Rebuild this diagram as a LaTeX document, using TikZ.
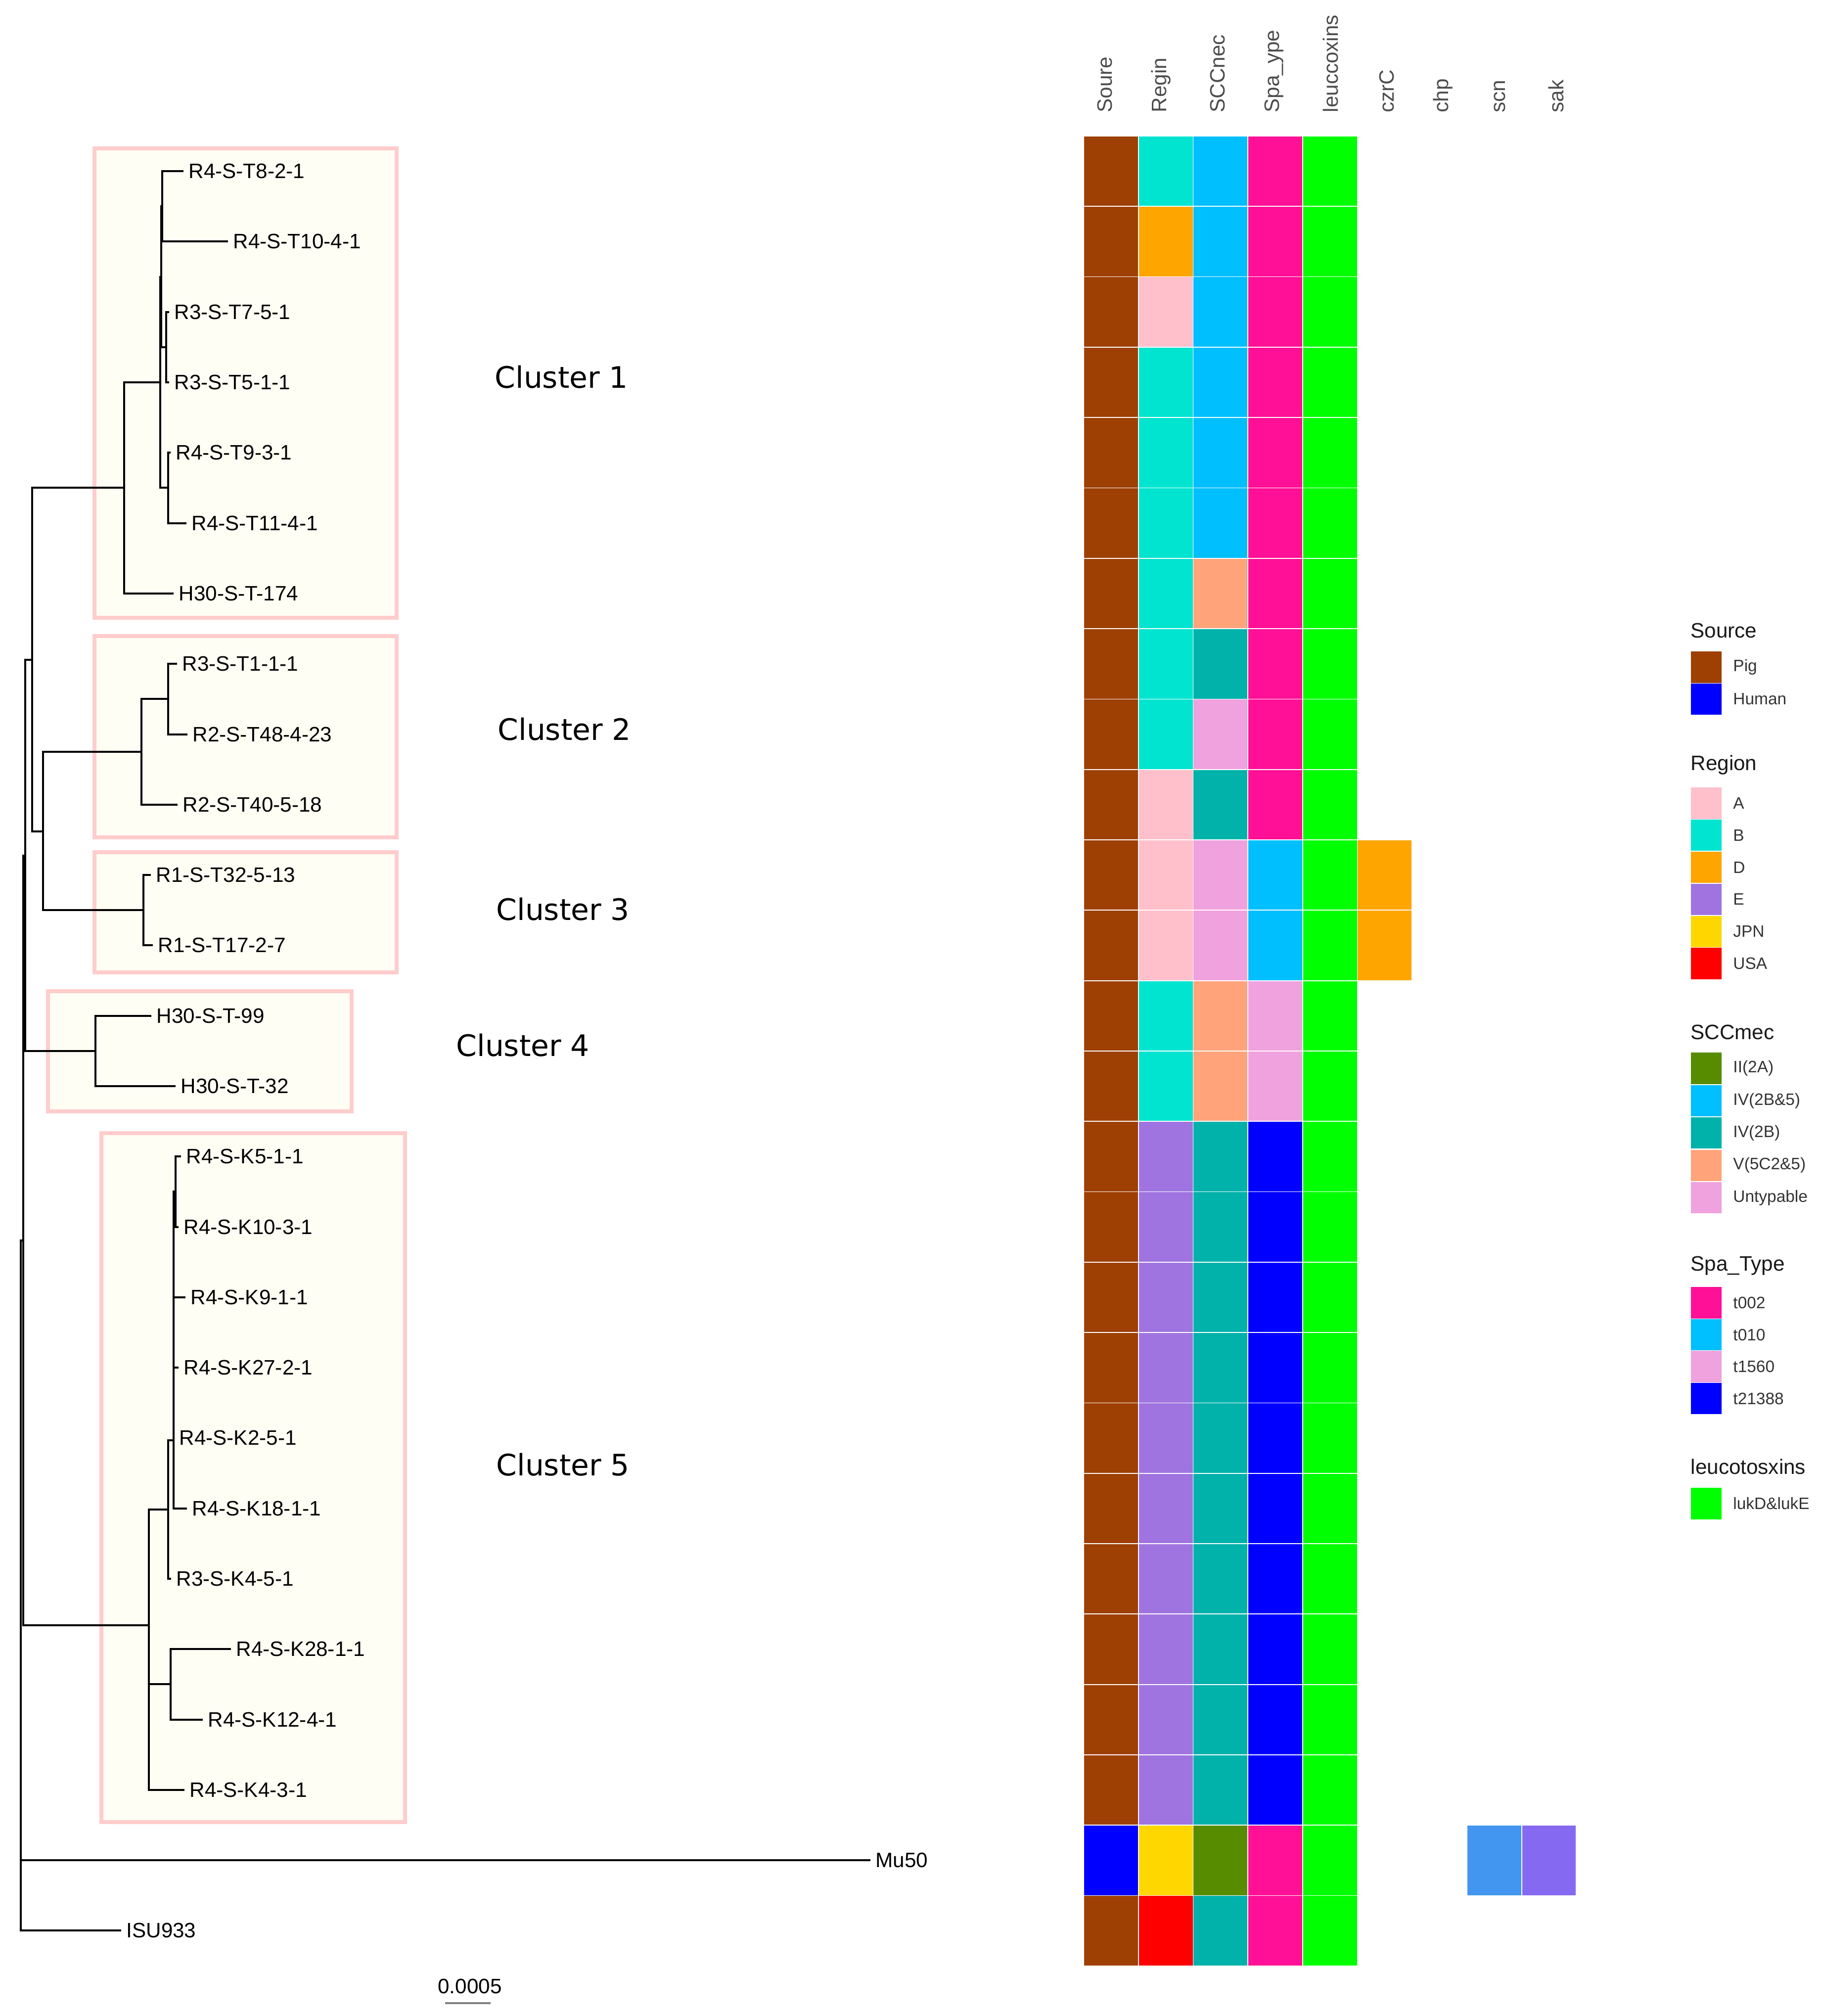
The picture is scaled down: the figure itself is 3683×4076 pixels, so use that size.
\documentclass[tikz,border=0pt]{standalone}
\usepackage{fontspec}
\setmainfont{Liberation Sans}
\newfontfamily\clusterfont{DejaVu Sans}
\usetikzlibrary{positioning}

\definecolor{pig}{RGB}{158,64,4}
\definecolor{human}{RGB}{0,0,255}
\definecolor{regA}{RGB}{255,192,203}
\definecolor{regB}{RGB}{0,228,208}
\definecolor{regD}{RGB}{255,165,0}
\definecolor{regE}{RGB}{160,116,224}
\definecolor{jpn}{RGB}{255,215,0}
\definecolor{usa}{RGB}{255,0,0}
\definecolor{sccII}{RGB}{88,140,0}
\definecolor{sccIVbf}{RGB}{0,191,255}
\definecolor{sccIVb}{RGB}{0,178,170}
\definecolor{sccV}{RGB}{255,163,122}
\definecolor{untyp}{RGB}{240,162,222}
\definecolor{spaA}{RGB}{255,16,150}
\definecolor{spaB}{RGB}{0,191,255}
\definecolor{spaC}{RGB}{240,162,222}
\definecolor{spaD}{RGB}{0,0,255}
\definecolor{luk}{RGB}{0,255,0}
\definecolor{czr}{RGB}{255,165,0}
\definecolor{scnc}{RGB}{66,150,240}
\definecolor{sakc}{RGB}{133,105,240}
\definecolor{boxfill}{RGB}{255,254,244}
\definecolor{boxline}{RGB}{255,204,204}

\begin{document}
\begin{tikzpicture}[
    x=0.01cm, y=-0.01cm,
    leaf/.style={anchor=west, inner xsep=1mm, inner ysep=0pt, font=\fontsize{12}{14}\selectfont},
    branch/.style={line width=1pt, black},
    clusterbox/.style={draw=boxline, fill=boxfill, line width=2.2pt},
    clusterlab/.style={anchor=west, inner sep=0pt, font=\clusterfont\fontsize{17}{20}\selectfont},
    cell/.style={draw=white, line width=0.5pt},
    colhead/.style={rotate=90, anchor=west, inner sep=0pt, text=black!70, font=\fontsize{12}{14}\selectfont},
    swatch/.style={minimum width=0.64cm, minimum height=0.645cm, inner sep=0pt, draw=white, line width=0.4pt},
    legtitle/.style={anchor=west, inner sep=0pt, text=black!90, font=\fontsize{12}{14}\selectfont},
    legtext/.style={inner sep=0pt, text=black!80, font=\fontsize{9.5}{11}\selectfont}
]
\fill[white] (0,0) rectangle (3683,4076);
\useasboundingbox (0,0) rectangle (3683,4076);

% Cluster boxes
\draw[clusterbox] (191,300) rectangle (802,1249);
\draw[clusterbox] (191,1286) rectangle (802,1693);
\draw[clusterbox] (191,1723) rectangle (802,1966);
\draw[clusterbox] (97,2004) rectangle (711,2247);
\draw[clusterbox] (205,2291) rectangle (819,3684);

% Cluster labels
\node[clusterlab] (cl1) at (1000,762) {Cluster 1};
\node[clusterlab] (cl2) at (1006,1474) {Cluster 2};
\node[clusterlab] (cl3) at (1003,1838) {Cluster 3};
\node[clusterlab] (cl4) at (922,2113) {Cluster 4};
\node[clusterlab] (cl5) at (1003,2961) {Cluster 5};

% Leaves
\node[leaf] (t8) at (371,346) {R4-S-T8-2-1};
\node[leaf] (t10) at (461,488) {R4-S-T10-4-1};
\node[leaf] (t7) at (342,631) {R3-S-T7-5-1};
\node[leaf] (t5) at (342,773) {R3-S-T5-1-1};
\node[leaf] (t9) at (345,915) {R4-S-T9-3-1};
\node[leaf] (t11) at (377,1058) {R4-S-T11-4-1};
\node[leaf] (h174) at (351,1200) {H30-S-T-174};
\node[leaf] (t1) at (358,1342) {R3-S-T1-1-1};
\node[leaf] (t48) at (379,1485) {R2-S-T48-4-23};
\node[leaf] (t40) at (359,1627) {R2-S-T40-5-18};
\node[leaf] (t32) at (305,1769) {R1-S-T32-5-13};
\node[leaf] (t17) at (309,1911) {R1-S-T17-2-7};
\node[leaf] (h99) at (306,2054) {H30-S-T-99};
\node[leaf] (h32) at (355,2196) {H30-S-T-32};
\node[leaf] (k5) at (366,2338) {R4-S-K5-1-1};
\node[leaf] (k10) at (361,2481) {R4-S-K10-3-1};
\node[leaf] (k9) at (375,2623) {R4-S-K9-1-1};
\node[leaf] (k27) at (361,2765) {R4-S-K27-2-1};
\node[leaf] (k2) at (352,2907) {R4-S-K2-5-1};
\node[leaf] (k18) at (378,3050) {R4-S-K18-1-1};
\node[leaf] (k4r3) at (346,3192) {R3-S-K4-5-1};
\node[leaf] (k28) at (467,3334) {R4-S-K28-1-1};
\node[leaf] (k12) at (410,3477) {R4-S-K12-4-1};
\node[leaf] (k4) at (373,3619) {R4-S-K4-3-1};
\node[leaf] (mu50) at (1760,3761) {Mu50};
\node[leaf] (isu) at (245,3903) {ISU933};

% Inner nodes
\coordinate (n1) at (328,417);
\coordinate (n2) at (336,702);
\coordinate (n3) at (326,560);
\coordinate (n4) at (340,986);
\coordinate (n5) at (324,773);
\coordinate (n6) at (251,986);
\coordinate (n7) at (340,1413);
\coordinate (n8) at (286,1520);
\coordinate (n9) at (290,1840);
\coordinate (n10) at (87,1681);
\coordinate (n11) at (65,1334);
\coordinate (n12) at (193,2125);
\coordinate (n13) at (51,1730);
\coordinate (n14) at (355,2409);
\coordinate (n15) at (351,2912);
\coordinate (n16) at (340,3052);
\coordinate (n17) at (345,3405);
\coordinate (n18) at (301,3286);
\coordinate (n19) at (47,2508);
\coordinate (root) at (42,3200);

% Branches
\draw[branch] (t8.west) -| (n1) |- (t10.west);
\draw[branch] (t7.west) -| (n2) |- (t5.west);
\draw[branch] (n1) -| (n3) |- (n2);
\draw[branch] (t9.west) -| (n4) |- (t11.west);
\draw[branch] (n3) -| (n5) |- (n4);
\draw[branch] (n5) -| (n6) |- (h174.west);
\draw[branch] (t1.west) -| (n7) |- (t48.west);
\draw[branch] (n7) -| (n8) |- (t40.west);
\draw[branch] (t32.west) -| (n9) |- (t17.west);
\draw[branch] (n8) -| (n10) |- (n9);
\draw[branch] (n6) -| (n11) |- (n10);
\draw[branch] (h99.west) -| (n12) |- (h32.west);
\draw[branch] (n11) -| (n13) |- (n12);
\draw[branch] (k5.west) -| (n14) |- (k10.west);
\draw[branch] (n14) -| (n15) |- (k18.west);
\draw[branch] (n15) |- (k9.west);
\draw[branch] (n15) |- (k27.west);
\draw[branch] (n15) |- (k2.west);
\draw[branch] (n15) -| (n16) |- (k4r3.west);
\draw[branch] (k28.west) -| (n17) |- (k12.west);
\draw[branch] (n16) -| (n18) |- (k4.west);
\draw[branch] (n18) |- (n17);
\draw[branch] (n13) -| (n19) |- (n18);
\draw[branch] (n19) -| (root) |- (mu50.west);
\draw[branch] (root) |- (isu.west);

% Scale bar
\node[font=\fontsize{12}{14}\selectfont, inner sep=0pt] (sbl) at (950,4016) {0.0005};
\coordinate (sb1) at (900,4050);
\coordinate (sb2) at (992,4050);
\draw[gray, line width=0.9pt] (sb1) -- (sb2);

% Column headers
\foreach \lab [count=\c from 0] in {Soure,Regin,SCCnec,Spa\_ype,leuccoxins,czrC,chp,scn,sak}
    \node[colhead] (head\c) at ({2234+114*\c},228) {\lab};

% Heatmap
\foreach \cells [count=\r from 0] in {
    {pig,regB,sccIVbf,spaA,luk,none,none,none,none},
    {pig,regD,sccIVbf,spaA,luk,none,none,none,none},
    {pig,regA,sccIVbf,spaA,luk,none,none,none,none},
    {pig,regB,sccIVbf,spaA,luk,none,none,none,none},
    {pig,regB,sccIVbf,spaA,luk,none,none,none,none},
    {pig,regB,sccIVbf,spaA,luk,none,none,none,none},
    {pig,regB,sccV,spaA,luk,none,none,none,none},
    {pig,regB,sccIVb,spaA,luk,none,none,none,none},
    {pig,regB,untyp,spaA,luk,none,none,none,none},
    {pig,regA,sccIVb,spaA,luk,none,none,none,none},
    {pig,regA,untyp,spaB,luk,czr,none,none,none},
    {pig,regA,untyp,spaB,luk,czr,none,none,none},
    {pig,regB,sccV,spaC,luk,none,none,none,none},
    {pig,regB,sccV,spaC,luk,none,none,none,none},
    {pig,regE,sccIVb,spaD,luk,none,none,none,none},
    {pig,regE,sccIVb,spaD,luk,none,none,none,none},
    {pig,regE,sccIVb,spaD,luk,none,none,none,none},
    {pig,regE,sccIVb,spaD,luk,none,none,none,none},
    {pig,regE,sccIVb,spaD,luk,none,none,none,none},
    {pig,regE,sccIVb,spaD,luk,none,none,none,none},
    {pig,regE,sccIVb,spaD,luk,none,none,none,none},
    {pig,regE,sccIVb,spaD,luk,none,none,none,none},
    {pig,regE,sccIVb,spaD,luk,none,none,none,none},
    {pig,regE,sccIVb,spaD,luk,none,none,none,none},
    {human,jpn,sccII,spaA,luk,none,none,scnc,sakc},
    {pig,usa,sccIVb,spaA,luk,none,none,none,none}}{
    \foreach \cc [count=\c from 0] in \cells
        \filldraw[cell, fill=\cc] ({2191+110.7*\c},{275+142.3*\r}) rectangle ++(110.7,142.3);
}

% Legend: Source
\node[legtitle] (ttsrc) at (3418,1275) {Source};
\foreach \col/\txt [count=\k from 0] in {pig/Pig, human/Human} {
    \node[swatch, fill=\col] (src\k) at (3450,{1349+64.5*\k}) {};
    \node[legtext, right=2.1mm of src\k] (srcl\k) {\txt};
}

% Legend: Region
\node[legtitle] (ttreg) at (3418,1547) {Region};
\foreach \col/\txt [count=\k from 0] in {regA/A, regB/B, regD/D, regE/E, jpn/JPN, usa/USA} {
    \node[swatch, fill=\col] (reg\k) at (3450,{1624+64.8*\k}) {};
    \node[legtext, right=2.1mm of reg\k] (regl\k) {\txt};
}

% Legend: SCCmec
\node[legtitle] (ttscc) at (3418,2087) {SCCmec};
\foreach \col/\txt [count=\k from 0] in {sccII/II(2A), sccIVbf/IV(2B\&5), sccIVb/IV(2B), sccV/V(5C2\&5), untyp/Untypable} {
    \node[swatch, fill=\col] (scc\k) at (3450,{2160+65.4*\k}) {};
    \node[legtext, right=2.1mm of scc\k] (sccl\k) {\txt};
}

% Legend: Spa_Type
\node[legtitle] (ttspa) at (3418,2559) {Spa\_Type};
\foreach \col/\txt [count=\k from 0] in {spaA/t002, spaB/t010, spaC/t1560, spaD/t21388} {
    \node[swatch, fill=\col] (spa\k) at (3450,{2634+64.5*\k}) {};
    \node[legtext, right=2.1mm of spa\k] (spal\k) {\txt};
}

% Legend: leucotoxins
\node[legtitle] (ttluk) at (3418,2965) {leucotosxins};
\node[swatch, fill=luk] (luk0) at (3450,3040) {};
\node[legtext, right=2.1mm of luk0] (lukl0) {lukD\&lukE};

\end{tikzpicture}
\end{document}
